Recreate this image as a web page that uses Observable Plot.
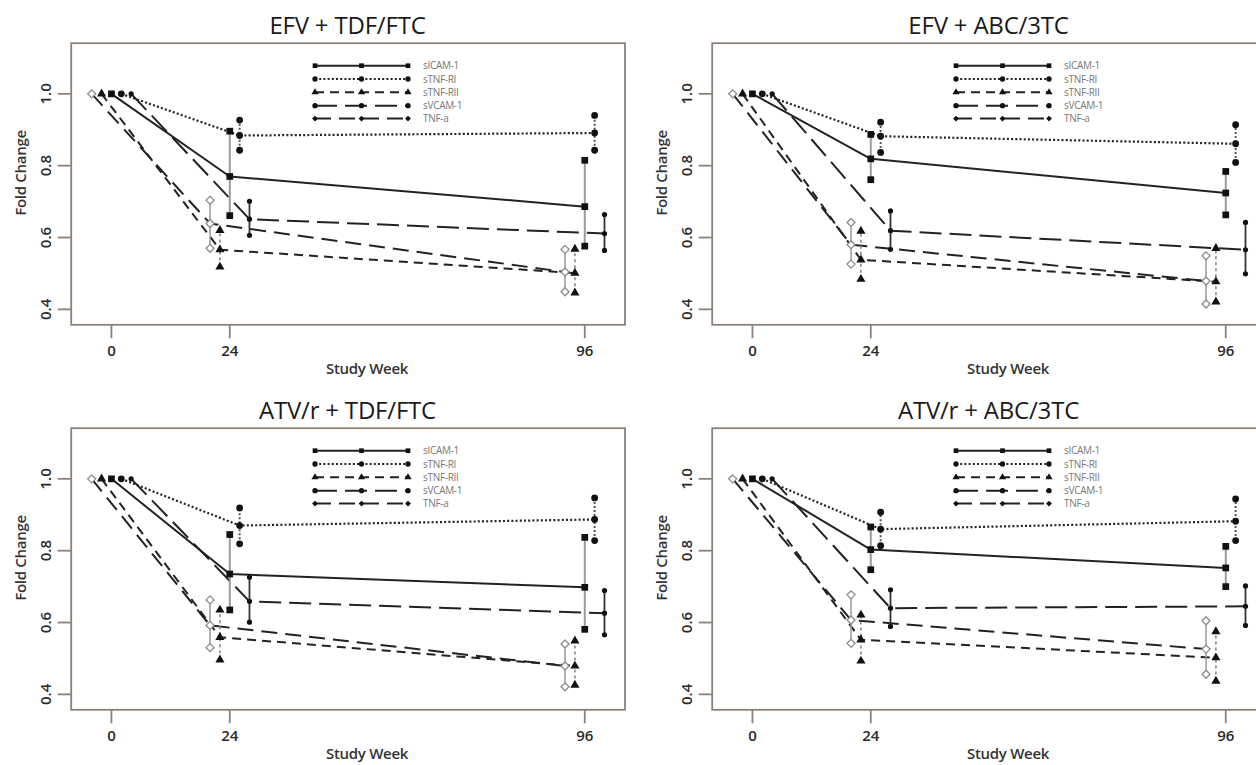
<!DOCTYPE html>
<html>
<head>
<meta charset="utf-8">
<script src="https://cdn.jsdelivr.net/npm/d3@7"></script>
<script src="https://cdn.jsdelivr.net/npm/@observablehq/plot@0.6"></script>
<style>
  html, body { margin: 0; padding: 0; background: #fff; width: 1256px; height: 765px; overflow: hidden; }
  #root { position: relative; width: 1256px; height: 765px; overflow: hidden; font-family: "Open Sans", sans-serif; }
  .panel { position: absolute; width: 641px; height: 385px; overflow: visible; }
  .ptitle { position: absolute; left: 0; top: 10px; width: 695px; text-align: center; font-size: 24px; line-height: 30px; color: #1a1a1a; letter-spacing: -0.2px; white-space: nowrap; }
  .xlab { position: absolute; left: 267px; width: 200px; top: 358px; text-align: center; font-size: 15px; line-height: 20px; color: #333; letter-spacing: -0.3px; font-weight: 600; }
  .ylab { position: absolute; left: -80px; width: 200px; top: 163px; text-align: center; font-size: 15px; line-height: 20px; color: #333; transform: rotate(-90deg); letter-spacing: -0.3px; font-weight: 600; }
  .plotsvg { position: absolute; left: 0; top: 38px; }
  .plotsvg text { font-weight: 600; font-size: 15px; }
  .legend { position: absolute; left: 0; top: 0; pointer-events: none; }
</style>
</head>
<body>
<div id="root"></div>
<script>
// ---------- data ----------
const panelTitles = ["EFV + TDF/FTC", "EFV + ABC/3TC", "ATV/r + TDF/FTC", "ATV/r + ABC/3TC"];
const series = ["sICAM-1", "sTNF-RI", "sTNF-RII", "sVCAM-1", "TNF-a"];
const weeks = [0, 24, 96];
const yTicks = [0.4, 0.6, 0.8, 1.0];

// EFV + TDF/FTC  (rows follow `series`, columns follow `weeks`)
const efvTdfMean = [[1, 0.770, 0.686], [1, 0.884, 0.891], [1, 0.566, 0.501], [1, 0.651, 0.611], [1, 0.639, 0.504]];
const efvTdfLow  = [[null, 0.661, 0.576], [null, 0.843, 0.843], [null, 0.518, 0.446], [null, 0.606, 0.564], [null, 0.570, 0.449]];
const efvTdfHigh = [[null, 0.896, 0.815], [null, 0.927, 0.940], [null, 0.620, 0.568], [null, 0.701, 0.664], [null, 0.704, 0.567]];

// EFV + ABC/3TC
const efvAbcMean = [[1, 0.819, 0.724], [1, 0.882, 0.861], [1, 0.538, 0.477], [1, 0.619, 0.566], [1, 0.580, 0.479]];
const efvAbcLow  = [[null, 0.761, 0.663], [null, 0.837, 0.809], [null, 0.484, 0.421], [null, 0.567, 0.499], [null, 0.526, 0.415]];
const efvAbcHigh = [[null, 0.887, 0.784], [null, 0.921, 0.914], [null, 0.618, 0.570], [null, 0.674, 0.642], [null, 0.642, 0.549]];

// ATV/r + TDF/FTC
const atvTdfMean = [[1, 0.735, 0.698], [1, 0.870, 0.887], [1, 0.559, 0.479], [1, 0.659, 0.626], [1, 0.592, 0.479]];
const atvTdfLow  = [[null, 0.635, 0.581], [null, 0.819, 0.828], [null, 0.496, 0.426], [null, 0.601, 0.566], [null, 0.530, 0.421]];
const atvTdfHigh = [[null, 0.845, 0.837], [null, 0.919, 0.947], [null, 0.635, 0.549], [null, 0.726, 0.689], [null, 0.663, 0.540]];

// ATV/r + ABC/3TC
const atvAbcMean = [[1, 0.803, 0.752], [1, 0.860, 0.882], [1, 0.552, 0.502], [1, 0.640, 0.645], [1, 0.607, 0.526]];
const atvAbcLow  = [[null, 0.747, 0.700], [null, 0.814, 0.828], [null, 0.493, 0.437], [null, 0.589, 0.592], [null, 0.542, 0.456]];
const atvAbcHigh = [[null, 0.866, 0.812], [null, 0.907, 0.944], [null, 0.621, 0.575], [null, 0.691, 0.702], [null, 0.677, 0.605]];

// ---------- styles ----------
const panelData = [
  [efvTdfMean, efvTdfLow, efvTdfHigh],
  [efvAbcMean, efvAbcLow, efvAbcHigh],
  [atvTdfMean, atvTdfLow, atvTdfHigh],
  [atvAbcMean, atvAbcLow, atvAbcHigh]
];
const panelPos = [[0, 0], [641, 0], [0, 385], [641, 385]];
const axisCol = "#8c8079";
const style = {
  "sICAM-1":  {dodge: 0,  dash: null,    width: 2,   symbol: "square",   r: 3.8, fill: "#111", stroke: "none",    barStroke: "#9a9a9a", barDash: null,  barWidth: 2},
  "sTNF-RI":  {dodge: 2,  dash: "2,2.2", width: 2.2, symbol: "circle",   r: 3.4, fill: "#111", stroke: "none",    barStroke: "#555",    barDash: "2,2", barWidth: 2},
  "sTNF-RII": {dodge: -2, dash: "9,6",   width: 2,   symbol: "triangle", r: 3.4, fill: "#111", stroke: "none",    barStroke: "#888",    barDash: "3,3", barWidth: 1.6},
  "sVCAM-1":  {dodge: 4,  dash: "22,8",  width: 2,   symbol: "circle",   r: 2.6, fill: "#111", stroke: "none",    barStroke: "#333",    barDash: null,  barWidth: 1.8},
  "TNF-a":    {dodge: -4, dash: "16,8",  width: 2,   symbol: "diamond2", r: 3.6, fill: "#fff", stroke: "#8a8a8a", barStroke: "#999",    barDash: null,  barWidth: 1.5}
};

function buildRows(mean, low, high) {
  const out = [];
  series.forEach((s, i) => weeks.forEach((w, j) => {
    out.push({series: s, week: w, x: w + style[s].dodge, mean: mean[i][j], lo: low[i][j], hi: high[i][j]});
  }));
  return out;
}

const root = document.getElementById("root");
const FL = 70.7, FW = 553.8, FT = 4.7, FH = 281.6;

panelTitles.forEach((title, p) => {
  const [mean, low, high] = panelData[p];
  const rows = buildRows(mean, low, high);
  const div = document.createElement("div");
  div.className = "panel";
  div.style.left = panelPos[p][0] + "px";
  div.style.top = panelPos[p][1] + "px";
  root.appendChild(div);

  const t = document.createElement("div");
  t.className = "ptitle"; t.textContent = title; div.appendChild(t);

  const marks = [
    Plot.frame({stroke: axisCol, strokeWidth: 1.8}),
    Plot.axisX({ticks: weeks, tickSize: 14, tickPadding: 7, stroke: axisCol, fill: "#2a2a2a", strokeWidth: 1.8, label: null, tickFormat: d => String(d)}),
    Plot.axisY({ticks: yTicks, tickSize: 13, tickPadding: 7, tickRotate: -90, stroke: axisCol, fill: "#2a2a2a", strokeWidth: 1.8, label: null, tickFormat: d3.format(".1f")})
  ];
  series.forEach(s => {
    const st = style[s];
    const d = rows.filter(r => r.series === s);
    marks.push(Plot.line(d, {x: "x", y: "mean", stroke: "#222", strokeWidth: st.width, strokeDasharray: st.dash, strokeLinecap: "butt"}));
  });
  series.forEach(s => {
    const st = style[s];
    const d = rows.filter(r => r.series === s && r.lo != null);
    marks.push(Plot.ruleX(d, {x: "x", y1: "lo", y2: "hi", stroke: st.barStroke, strokeWidth: st.barWidth, strokeDasharray: st.barDash}));
  });
  series.forEach(s => {
    const st = style[s];
    const d = rows.filter(r => r.series === s);
    const dd = d.filter(r => r.lo != null);
    const opts = {x: "x", symbol: st.symbol, r: st.r, fill: st.fill, stroke: st.stroke, strokeWidth: 1.3};
    marks.push(Plot.dot(d, {...opts, y: "mean"}));
    marks.push(Plot.dot(dd, {...opts, y: "lo"}));
    marks.push(Plot.dot(dd, {...opts, y: "hi"}));
  });

  const svg = Plot.plot({
    width: 641, height: 331,
    marginLeft: FL, marginRight: 641 - FL - FW, marginTop: FT, marginBottom: 331 - FT - FH,
    x: {domain: [-8.16, 104.16]},
    y: {domain: [0.357, 1.141]},
    style: {fontFamily: "Open Sans, sans-serif", fontSize: "15px", fontWeight: "600", background: "transparent", overflow: "visible", color: "#333"},
    marks
  });
  svg.classList.add("plotsvg");
  div.appendChild(svg);

  const xl = document.createElement("div");
  xl.className = "xlab"; xl.textContent = "Study Week"; div.appendChild(xl);
  const yl = document.createElement("div");
  yl.className = "ylab"; yl.textContent = "Fold Change"; div.appendChild(yl);

  // legend overlay
  const lg = d3.select(div).append("svg").attr("class", "legend").attr("width", 520).attr("height", 140);
  const x0 = 315, x1 = 408, xm = (x0 + x1) / 2, rowY = [65.7, 79, 92.3, 105.7, 118.6];
  series.forEach((s, i) => {
    const st = style[s];
    const y = rowY[i];
    lg.append("line").attr("x1", x0).attr("x2", x1).attr("y1", y).attr("y2", y)
      .attr("stroke", "#222").attr("stroke-width", st.width).attr("stroke-dasharray", st.dash);
    const sym = {square: d3.symbolSquare, circle: d3.symbolCircle, triangle: d3.symbolTriangle, diamond2: d3.symbolDiamond2}[st.symbol];
    [x0, xm, x1].forEach(xx => {
      lg.append("path").attr("d", d3.symbol(sym, 22)()).attr("transform", `translate(${xx},${y})`).attr("fill", "#111");
    });
    lg.append("text").attr("x", 423).attr("y", y + 3.5).attr("font-size", 10).attr("fill", "#777")
      .attr("font-family", "Open Sans, sans-serif").attr("letter-spacing", "-0.3").text(s);
  });
});
</script>
</body>
</html>
